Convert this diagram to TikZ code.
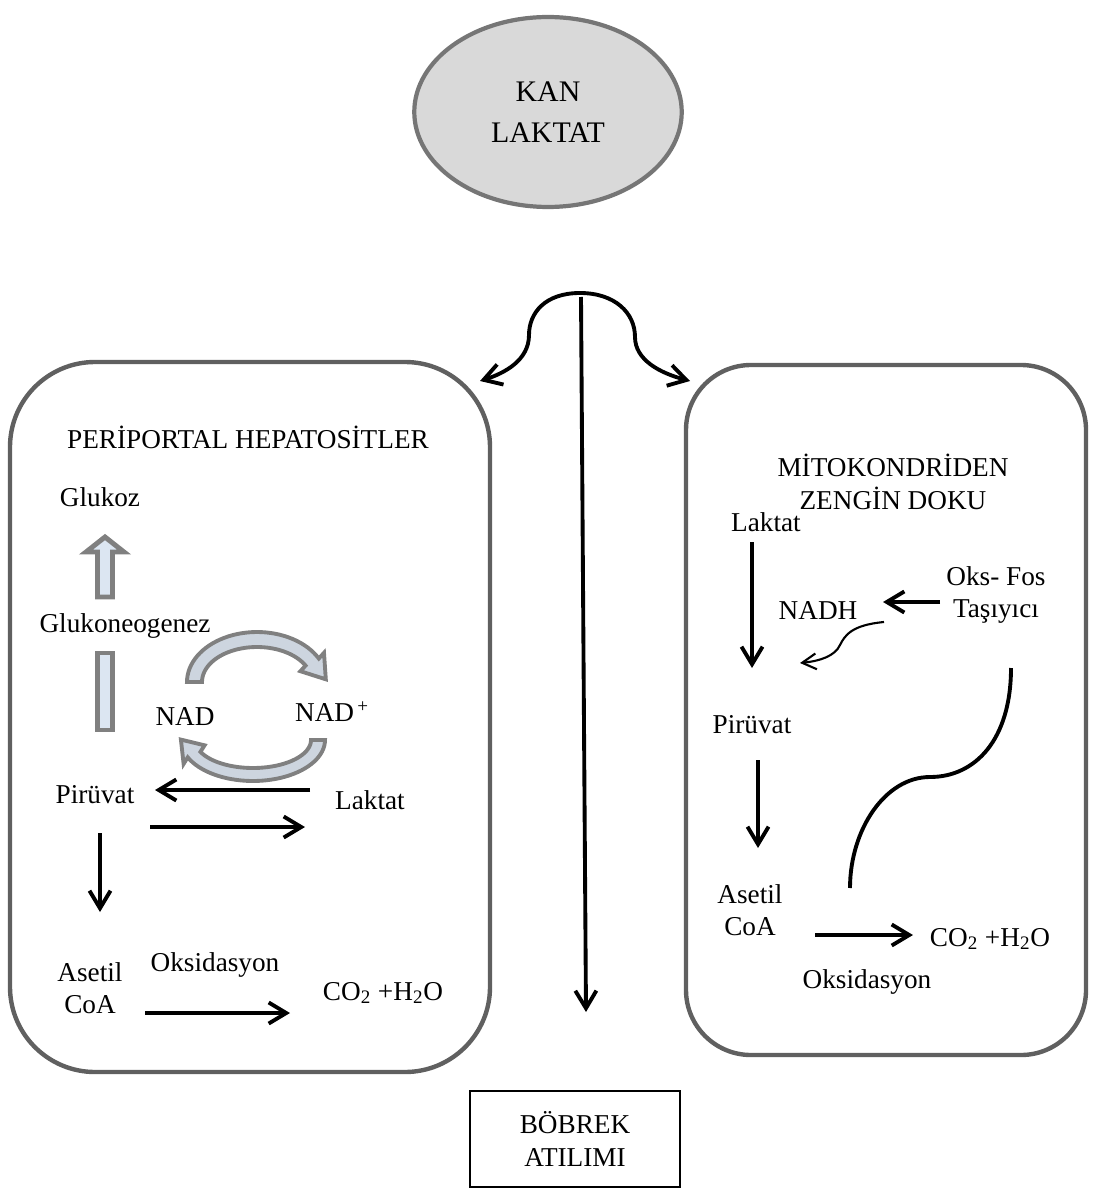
\documentclass[tikz,border=0pt]{standalone}
\usepackage{fontspec}
\setmainfont{Liberation Serif}
\usetikzlibrary{arrows.meta,shapes.geometric}

\begin{document}
\begin{tikzpicture}[x=0.02cm, y=-0.02cm,
  yazi/.style={font=\fontsize{15.5}{18.5}\selectfont, align=center, inner sep=1pt},
  ok/.style={line width=2.2pt, -{Straight Barb[length=10pt,width=12pt]}},
  inceok/.style={line width=1.2pt, -{Straight Barb[length=8pt,width=9pt]}},
  kutu/.style={draw=kutuGri, line width=2.5pt},
  kalinok/.style={draw=okGri, line width=2.8pt, fill=okMavi},
  halka/.style={draw=okGri, line width=2.2pt, fill=halkaMavi}]

% Renkler
\definecolor{kanGri}{HTML}{D9D9D9}
\definecolor{kanCizgi}{HTML}{767676}
\definecolor{kutuGri}{HTML}{606060}
\definecolor{okGri}{HTML}{808080}
\definecolor{okMavi}{HTML}{DCE6F2}
\definecolor{halkaMavi}{HTML}{CDD5DF}

\useasboundingbox (0,0) rectangle (1092,1189);

% Kan laktat
\node[ellipse, draw=kanCizgi, fill=kanGri, line width=2.4pt,
  minimum width=5.35cm, minimum height=3.8cm, yazi,
  font=\fontsize{17}{20}\selectfont] (kan) at (548,112) {KAN\\[3pt]LAKTAT};

% Kutular
\draw[kutu, rounded corners=1.7cm] (10,362) rectangle (490,1072);
\draw[kutu, rounded corners=1.3cm] (686,365) rectangle (1086,1055);
\node[draw, line width=0.7pt, minimum width=4.2cm, minimum height=1.92cm, yazi]
  (bobrek) at (575,1139) {BÖBREK\\ATILIMI};

% Dagilim oklari
\coordinate (ayrim) at (580,293);
\coordinate (solUc) at (480,381);
\coordinate (sagUc) at (690,381);
\coordinate (dikBas) at (581,297);
\coordinate (dikUc) at (586,1012);
\draw[ok] (ayrim) .. controls (545,293) and (529,313) .. (529,335)
  .. controls (529,360) and (505,373) .. (solUc);
\draw[ok] (ayrim) .. controls (615,293) and (635,313) .. (635,337)
  .. controls (635,360) and (660,373) .. (sagUc);
\draw[ok] (dikBas) -- (dikUc);

% Sol kutu - yazilar
\node[yazi] (periportal) at (248,437) {PERİPORTAL HEPATOSİTLER};
\node[yazi] (glukoz) at (100,497) {Glukoz};
\node[yazi] (glukoneo) at (125,626) {Glukoneogenez};
\node[yazi] (nad) at (185,717) {NAD};
\node[yazi] (nadArti) at (332,712) {NAD\textsuperscript{\,+}};
\node[yazi] (piruvatSol) at (95,795) {Pirüvat};
\node[yazi] (laktatSol) at (370,800) {Laktat};
\node[yazi] (asetilSol) at (90,988) {Asetil\\CoA};
\node[yazi] (oksSol) at (215,965) {Oksidasyon};
\node[yazi] (co2Sol) at (383,993) {CO\textsubscript{2} +H\textsubscript{2}O};

% Glukoneogenez oku
\filldraw[kalinok] (105,537) -- (124,552) -- (112.5,552) -- (112.5,597) -- (97.5,597)
  -- (97.5,552) -- (86,552) -- cycle;
\filldraw[kalinok] (97.5,653) rectangle (112.5,730);

% NAD halkasi
\filldraw[halka] plot[domain=180:28, samples=40] ({257+70*cos(\x)},{682-50*sin(\x)})
  -- (324,652.8) -- (325.8,679.3) -- (300.4,671.2)
  -- plot[domain=28:180, samples=40] ({257+55*cos(\x)},{682-35*sin(\x)}) -- cycle;
\filldraw[halka] plot[domain=360:205, samples=40] ({253+72*cos(\x)},{740-41*sin(\x)})
  -- (183.6,763.9) -- (180.9,739.6) -- (204.6,745.3)
  -- plot[domain=205:360, samples=40] ({253+58*cos(\x)},{740-28*sin(\x)}) -- cycle;

% Sol kutu - oklar
\coordinate (s1) at (310,790);  \coordinate (s2) at (155,790);
\coordinate (s3) at (150,827);  \coordinate (s4) at (305,827);
\coordinate (s5) at (100,833);  \coordinate (s6) at (100,912);
\coordinate (s7) at (145,1013); \coordinate (s8) at (290,1013);
\draw[ok] (s1) -- (s2);
\draw[ok] (s3) -- (s4);
\draw[ok] (s5) -- (s6);
\draw[ok] (s7) -- (s8);

% Sag kutu - yazilar
\node[yazi] (mito) at (893,482) {MİTOKONDRİDEN\\ZENGİN DOKU};
\node[yazi] (laktatSag) at (766,522) {Laktat};
\node[yazi] (oksfos) at (996,595) {Oks- Fos\\Taşıyıcı};
\node[yazi] (nadh) at (818,611) {NADH};
\node[yazi] (piruvatSag) at (752,725) {Pirüvat};
\node[yazi] (asetilSag) at (750,910) {Asetil\\CoA};
\node[yazi] (co2Sag) at (990,939) {CO\textsubscript{2} +H\textsubscript{2}O};
\node[yazi] (oksSag) at (867,982) {Oksidasyon};

% Sag kutu - oklar
\coordinate (r1) at (752,542);  \coordinate (r2) at (752,668);
\coordinate (r3) at (940,602);  \coordinate (r4) at (883,602);
\coordinate (r5) at (884,622);  \coordinate (r6) at (800,663);
\coordinate (r7) at (758,760);  \coordinate (r8) at (758,848);
\coordinate (r9) at (815,935);  \coordinate (r10) at (913,935);
\coordinate (tasUst) at (1011,668); \coordinate (tasAlt) at (850,888);
\draw[ok] (r1) -- (r2);
\draw[ok] (r3) -- (r4);
\draw[inceok] (r5) .. controls (852,625) and (845,635) .. (840,645)
  .. controls (835,656) and (820,661) .. (r6);
\draw[ok] (r7) -- (r8);
\draw[ok] (r9) -- (r10);
\draw[line width=2.2pt] (tasUst) .. controls (1011,740) and (975,777) .. (930,777)
  .. controls (885,777) and (850,830) .. (tasAlt);
\end{tikzpicture}
\end{document}
